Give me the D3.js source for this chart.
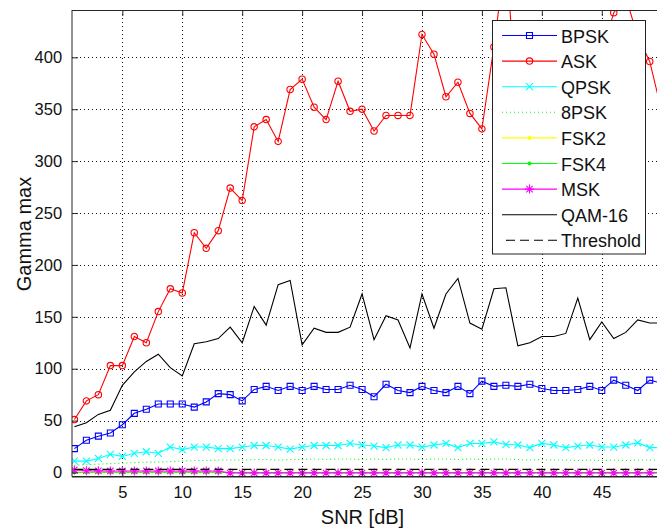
<!DOCTYPE html>
<html>
<head>
<meta charset="utf-8">
<script src="https://cdn.jsdelivr.net/npm/d3@7"></script>
<style>
  html, body { margin: 0; padding: 0; background: #fff; }
  svg { display: block; font-family: "Liberation Sans", Arial, sans-serif; }
</style>
</head>
<body>
<svg id="chart" width="657" height="531"></svg>
<script>
// SNR sweep in dB
const snr = d3.range(1, 51);

// Gamma max per modulation
const bpsk = [23, 31, 35, 38, 46, 57, 61, 66, 66, 66, 63, 68, 76, 75, 69, 80, 83, 79, 83, 79,
  83, 80, 80, 84, 80, 73, 85, 79, 77, 83, 79, 77, 83, 76, 88, 83, 84, 83, 85, 81,
  79, 79, 80, 83, 79, 89, 84, 79, 89, 86];
const ask = [51, 69, 75, 103, 103, 131, 125, 155, 177, 173, 231, 216, 233, 274, 262, 333, 340, 319, 369, 379,
  352, 340, 377, 348, 350, 329, 344, 344, 344, 422, 403, 362, 376, 346, 331, 410, 500, 340, 385, 395,
  365, 400, 380, 370, 404, 443, 458, 420, 396, 348];
const qpsk = [11, 11, 13.5, 17.5, 15.5, 18.5, 20, 18.5, 24.5, 22, 24.5, 24.5, 23, 23, 24.5, 26, 26, 24.5, 22.5, 24.5,
  26, 26, 26, 28, 26.5, 25.5, 24, 26.5, 26.5, 24.5, 26.5, 28, 24, 28, 28, 29.5, 27, 26.5, 24, 28,
  26.5, 24, 25.5, 26.5, 24.5, 24.5, 26.5, 28.5, 24, 24];
const psk8 = [7, 7.5, 8, 8.5, 9, 9.5, 10, 10, 10.5, 11, 11.5, 11.5, 12, 12, 12, 12.5, 12.5, 12, 12.5, 12.5,
  13, 12.5, 13, 13, 12.5, 13, 12.5, 13, 13, 12.5, 13, 13, 12.5, 13, 12.5, 13, 13, 12.5, 12, 12.5,
  12, 12, 11.5, 12, 11.5, 12, 11.5, 12, 12, 11.5];
const fsk2 = [0.4, 0.4, 0.4, 0.4, 0.4, 0.4, 0.4, 0.4, 0.4, 0.4, 0.4, 0.4, 0.4, 0.2, 0.2, 0.2, 0.2, 0.2, 0.2, 0.2,
  0.2, 0.2, 0.2, 0.2, 0.2, 0.2, 0.2, 0.2, 0.2, 0.2, 0.2, 0.2, 0.2, 0.2, 0.2, 0.2, 0.2, 0.2, 0.2, 0.2,
  0.2, 0.2, 0.2, 0.2, 0.2, 0.2, 0.2, 0.2, 0.2, 0.2];
const fsk4 = [0.3, 0.3, 0.3, 0.3, 0.3, 0.3, 0.3, 0.3, 0.3, 0.3, 0.3, 0.3, 0.3, 0, 0, 0, 0, 0, 0, 0,
  0, 0, 0, 0, 0, 0, 0, 0, 0, 0, 0, 0, 0, 0, 0, 0, 0, 0, 0, 0,
  0, 0, 0, 0, 0, 0, 0, 0, 0, 0];
const msk = [2.5, 1.8, 1.6, 1.5, 1.5, 1.5, 1.5, 1.5, 1.5, 1.5, 1.5, 1.5, 1.5, -0.5, -0.5, -0.5, -0.5, -0.5, -0.5, -0.5,
  -0.5, -0.5, -0.5, -0.5, -0.5, -0.5, -0.5, -0.5, -0.5, -0.5, -0.5, -0.5, -0.5, -0.5, -0.5, -0.5, -0.5, -0.5, -0.5, -0.5,
  -0.5, -0.5, -0.5, -0.5, -0.5, -0.5, -0.5, -0.5, -0.5, -0.5];
const qam16 = [44, 48, 56, 60, 84, 97, 107, 114, 101, 93, 124, 126, 129, 140, 125, 160, 142, 181, 185, 123,
  139, 135, 135, 140, 172, 128, 151, 147, 120, 172, 139, 172, 187, 144, 138, 177, 178, 122, 125, 131,
  131, 134, 168, 128, 145, 129, 135, 147, 144, 144];
const threshold = [3, 3, 3, 3, 3, 3, 3, 3, 3, 3, 3, 3, 3, 3, 3, 3, 3, 3, 3, 3,
  3, 3, 3, 3, 3, 3, 3, 3, 3, 3, 3, 3, 3, 3, 3, 3, 3, 3, 3, 3,
  3, 3, 3, 3, 3, 3, 3, 3, 3, 3];

const xTicks = [5, 10, 15, 20, 25, 30, 35, 40, 45];
const yTicks = [0, 50, 100, 150, 200, 250, 300, 350, 400];

const seriesNames = ["BPSK", "ASK", "QPSK", "8PSK", "FSK2", "FSK4", "MSK", "QAM-16", "Threshold"];
const seriesValues = [bpsk, ask, qpsk, psk8, fsk2, fsk4, msk, qam16, threshold];
const seriesColors = ["#0000ff", "#ff0000", "#00ffff", "#00ff00", "#ffff00", "#00ff00", "#ff00ff", "#000000", "#000000"];
const seriesDash = [null, null, null, "1,3", null, null, null, null, "9,5"];
const seriesMarker = ["square", "circle", "x", null, "dot", "dot", "star", null, null];

// Plot area
const plotLeft = 72, plotTop = 10, plotBottom = 476.7, plotRight = 661.7;
const svg = d3.select("#chart");
const x = d3.scaleLinear().domain([0.8, 50]).range([plotLeft, plotRight]);
const y = d3.scaleLinear().domain([-4.05, 445.6]).range([plotBottom, plotTop]);

svg.append("rect").attr("width", 657).attr("height", 531).attr("fill", "#fff");

// Dotted grid
const grid = svg.append("g").attr("stroke", "#111").attr("stroke-width", 1).attr("stroke-dasharray", "1,3");
grid.selectAll("line.v").data(xTicks).join("line").attr("class", "v")
  .attr("x1", d => Math.round(x(d)) + 0.5).attr("x2", d => Math.round(x(d)) + 0.5)
  .attr("y1", plotTop).attr("y2", plotBottom);
grid.selectAll("line.h").data(yTicks).join("line").attr("class", "h")
  .attr("y1", d => Math.round(y(d)) + 0.5).attr("y2", d => Math.round(y(d)) + 0.5)
  .attr("x1", plotLeft).attr("x2", plotRight);

svg.append("clipPath").attr("id", "plotclip")
  .append("rect").attr("x", plotLeft).attr("y", plotTop).attr("width", plotRight - plotLeft).attr("height", plotBottom - plotTop);

// Marker shapes
function markerPath(type, cx, cy) {
  const p = d3.path();
  if (type === "square") {
    p.rect(cx - 3, cy - 3, 6, 6);
  } else if (type === "circle") {
    p.moveTo(cx + 3.2, cy); p.arc(cx, cy, 3.2, 0, 2 * Math.PI);
  } else if (type === "x") {
    p.moveTo(cx - 3.5, cy - 3.5); p.lineTo(cx + 3.5, cy + 3.5);
    p.moveTo(cx - 3.5, cy + 3.5); p.lineTo(cx + 3.5, cy - 3.5);
  } else if (type === "star") {
    p.moveTo(cx - 4.5, cy); p.lineTo(cx + 4.5, cy);
    p.moveTo(cx, cy - 4.5); p.lineTo(cx, cy + 4.5);
    p.moveTo(cx - 3.2, cy - 3.2); p.lineTo(cx + 3.2, cy + 3.2);
    p.moveTo(cx - 3.2, cy + 3.2); p.lineTo(cx + 3.2, cy - 3.2);
  }
  return p.toString();
}

const plot = svg.append("g").attr("clip-path", "url(#plotclip)");
const line = d3.line().x((d, i) => x(snr[i])).y(d => y(d));

seriesValues.forEach((vals, s) => {
  const g = plot.append("g");
  g.append("path").datum(vals)
    .attr("d", line)
    .attr("fill", "none")
    .attr("stroke", seriesColors[s])
    .attr("stroke-width", 1.1)
    .attr("stroke-dasharray", seriesDash[s]);
  const m = seriesMarker[s];
  if (m === "dot") {
    g.selectAll("circle").data(vals).join("circle")
      .attr("cx", (d, i) => x(snr[i])).attr("cy", d => y(d)).attr("r", 2)
      .attr("fill", seriesColors[s]);
  } else if (m) {
    g.selectAll("path.mk").data(vals).join("path").attr("class", "mk")
      .attr("d", (d, i) => markerPath(m, x(snr[i]), y(d)))
      .attr("fill", "none").attr("stroke", seriesColors[s]).attr("stroke-width", 1.1);
  }
});

// Axes with inward ticks, MATLAB style
const axisColor = "#262626";
const xAxis = svg.append("g").attr("transform", `translate(0,${plotBottom})`)
  .call(d3.axisBottom(x).tickValues(xTicks).tickSizeInner(-6).tickSizeOuter(0).tickPadding(14));
const xTop = svg.append("g").attr("transform", `translate(0,${plotTop})`)
  .call(d3.axisTop(x).tickValues(xTicks).tickSizeInner(-6).tickSizeOuter(0).tickFormat(""));
const yAxis = svg.append("g").attr("transform", `translate(${plotLeft},0)`)
  .call(d3.axisLeft(y).tickValues(yTicks).tickSizeInner(-6).tickSizeOuter(0).tickPadding(14));
[xAxis, xTop, yAxis].forEach(a => {
  a.select(".domain").remove();
  a.selectAll(".tick line").attr("stroke", axisColor);
  a.selectAll(".tick text").attr("fill", "#111").style("font-size", "16.5px")
    .style("font-family", "'Liberation Sans', Arial, sans-serif");
});
yAxis.selectAll(".tick text").attr("dx", "0.25em");
xAxis.selectAll(".tick text").attr("dy", "0.45em");

// Box edges
svg.append("line").attr("x1", plotLeft).attr("x2", plotLeft).attr("y1", plotTop).attr("y2", plotBottom).attr("stroke", axisColor);
svg.append("line").attr("x1", plotLeft).attr("x2", 657).attr("y1", plotTop + 0.5).attr("y2", plotTop + 0.5).attr("stroke", axisColor);
svg.append("line").attr("x1", plotLeft).attr("x2", 657).attr("y1", plotBottom).attr("y2", plotBottom).attr("stroke", axisColor).attr("stroke-width", 1.5);

// Axis titles
svg.append("text").attr("x", (plotLeft + 657) / 2 - 2).attr("y", 524)
  .attr("text-anchor", "middle").style("font-size", "20px").attr("fill", "#111").text("SNR [dB]");
svg.append("text").attr("transform", "translate(31,234) rotate(-90)")
  .attr("text-anchor", "middle").style("font-size", "20px").attr("fill", "#111").text("Gamma max");

// Legend
const lg = svg.append("g");
lg.append("rect").attr("x", 492.5).attr("y", 20.5).attr("width", 153).attr("height", 233.5)
  .attr("fill", "#fff").attr("stroke", "#222").attr("stroke-width", 1);
seriesNames.forEach((name, s) => {
  const ly = 35.5 + s * 25.6;
  const x0 = seriesDash[s] === "9,5" ? 506 : 502;
  lg.append("line").attr("x1", x0).attr("x2", 557).attr("y1", ly).attr("y2", ly)
    .attr("stroke", seriesColors[s]).attr("stroke-width", 1.1).attr("stroke-dasharray", seriesDash[s]);
  const m = seriesMarker[s];
  if (m === "dot") {
    lg.append("circle").attr("cx", 529.5).attr("cy", ly).attr("r", 2).attr("fill", seriesColors[s]);
  } else if (m) {
    lg.append("path").attr("d", markerPath(m, 529.5, ly)).attr("fill", "none")
      .attr("stroke", seriesColors[s]).attr("stroke-width", 1.1);
  }
  lg.append("text").attr("x", 561).attr("y", ly + 7).style("font-size", "18px").attr("fill", "#111").text(name);
});
</script>
</body>
</html>
